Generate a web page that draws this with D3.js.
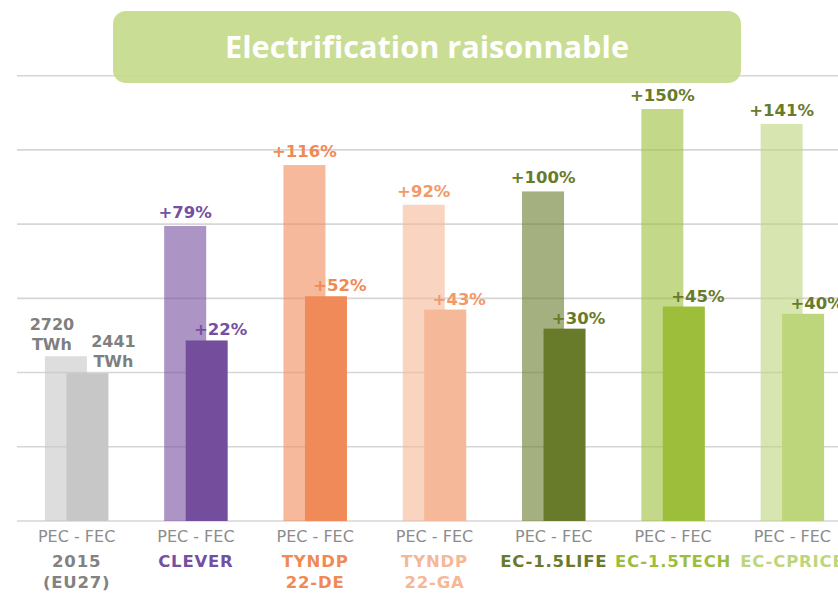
<!DOCTYPE html>
<html>
<head>
<meta charset="utf-8">
<script src="https://cdn.jsdelivr.net/npm/d3@7"></script>
<style>
  html, body { margin: 0; padding: 0; background: #fff; overflow: hidden; }
  svg { display: block; }
</style>
</head>
<body>
<div id="chart"></div>
<script>
// values in TWh (PEC = primary, FEC = final)
const groupLines = [["2015", "(EU27)"], ["CLEVER"], ["TYNDP", "22-DE"], ["TYNDP", "22-GA"], ["EC-1.5LIFE"], ["EC-1.5TECH"], ["EC-CPRICE"]];
const pecValues = [2720, 4870, 5875, 5220, 5440, 6800, 6555];
const fecValues = [2441, 2980, 3710, 3490, 3175, 3540, 3420];
const pecLabels = [["2720", "TWh"], "+79%", "+116%", "+92%", "+100%", "+150%", "+141%"];
const fecLabels = [["2441", "TWh"], "+22%", "+52%", "+43%", "+30%", "+45%", "+40%"];
const gridTicks = [0, 1225, 2450, 3675, 4900, 6125, 7350];
const subLabel = "PEC - FEC";
const title = "Electrification raisonnable";

const barColors = ["#c7c7c7", "#744e9c", "#f08b59", "#f5b898", "#687b2a", "#9cbe3b", "#bdd67b"];
const pctColors = ["#7f7f7f", "#7550a0", "#f08a55", "#f2996a", "#687b2a", "#687b2a", "#687b2a"];
const nameColors = ["#828282", "#7550a0", "#f08a55", "#f6b797", "#687b2a", "#9cbe3b", "#bdd67b"];

const W = 838, H = 593;
const svg = d3.select("#chart").append("svg")
  .attr("width", W)
  .attr("height", H);

const y = d3.scaleLinear().domain([0, 7350]).range([521, 75.7]);
const x = d3.scaleBand().domain(d3.range(groupLines.length)).range([17, 852]).padding(0);

const barW = 42, shift = 21.5;
const pecX = i => x(i) + (x.bandwidth() - (barW + shift)) / 2;
const fecX = i => pecX(i) + shift;

// grid
svg.append("g")
  .selectAll("line")
  .data(gridTicks)
  .join("line")
  .attr("x1", 17)
  .attr("x2", W)
  .attr("y1", d => y(d))
  .attr("y2", d => y(d))
  .attr("stroke", "#d6d6d6")
  .attr("stroke-width", 1.6);

// title box
svg.append("rect")
  .attr("x", 113)
  .attr("y", 11)
  .attr("width", 628)
  .attr("height", 72)
  .attr("rx", 13)
  .attr("fill", "#c5da8c")
  .attr("fill-opacity", 0.93);

svg.append("text")
  .attr("x", 427)
  .attr("y", 57.5)
  .attr("text-anchor", "middle")
  .attr("font-family", "'Open Sans', sans-serif")
  .attr("font-weight", "bold")
  .attr("font-size", 31)
  .attr("fill", "#fff")
  .attr("textLength", 404)
  .attr("lengthAdjust", "spacingAndGlyphs")
  .text(title);

const idx = d3.range(groupLines.length);

// PEC bars (see-through) then FEC bars on top
svg.append("g")
  .selectAll("rect")
  .data(idx)
  .join("rect")
  .attr("x", i => pecX(i))
  .attr("width", barW)
  .attr("y", i => y(pecValues[i]))
  .attr("height", i => y(0) - y(pecValues[i]))
  .attr("fill", i => barColors[i])
  .attr("fill-opacity", 0.6);

svg.append("g")
  .selectAll("rect")
  .data(idx)
  .join("rect")
  .attr("x", i => fecX(i))
  .attr("width", barW)
  .attr("y", i => y(fecValues[i]))
  .attr("height", i => y(0) - y(fecValues[i]))
  .attr("fill", i => barColors[i]);

const boldFont = "'DejaVu Sans', Verdana, sans-serif";

function valueLabel(cx, top, label, color, gap) {
  const t = svg.append("text")
    .attr("text-anchor", "middle")
    .attr("font-family", boldFont)
    .attr("font-weight", "bold")
    .attr("fill", color);
  if (Array.isArray(label)) {
    t.attr("font-size", 16);
    label.forEach((s, k) => {
      t.append("tspan")
        .attr("x", cx)
        .attr("y", top - 6.5 - (label.length - 1 - k) * 20)
        .text(s);
    });
  } else {
    t.attr("font-size", 16.5)
      .attr("x", cx)
      .attr("y", top - gap)
      .text(label);
  }
}

idx.forEach(i => {
  const pTop = y(pecValues[i]), fTop = y(fecValues[i]);
  if (i === 0) {
    valueLabel(pecX(i) + barW / 2 - 14, pTop, pecLabels[i], pctColors[i]);
    valueLabel(fecX(i) + barW / 2 + 26, fTop, fecLabels[i], pctColors[i]);
  } else {
    valueLabel(pecX(i) + barW / 2, pTop, pecLabels[i], pctColors[i], 8);
    valueLabel(fecX(i) + barW / 2 + 14, fTop, fecLabels[i], pctColors[i], 5);
  }
});

// category labels
const cat = svg.append("g");
cat.selectAll("text.sub")
  .data(idx)
  .join("text")
  .attr("class", "sub")
  .attr("x", i => x(i) + x.bandwidth() / 2)
  .attr("y", 541.5)
  .attr("text-anchor", "middle")
  .attr("font-family", "'DejaVu Sans', sans-serif")
  .attr("font-size", 16)
  .attr("fill", "#8c8c8c")
  .text(subLabel);

cat.selectAll("text.name")
  .data(idx)
  .join("text")
  .attr("class", "name")
  .attr("text-anchor", "middle")
  .attr("font-family", boldFont)
  .attr("font-weight", "bold")
  .attr("font-size", 16.5)
  .attr("letter-spacing", 0.8)
  .attr("fill", i => nameColors[i])
  .each(function(i) {
    d3.select(this).selectAll("tspan")
      .data(groupLines[i])
      .join("tspan")
      .attr("x", x(i) + x.bandwidth() / 2)
      .attr("y", (d, k) => 567 + k * 20.5)
      .text(d => d);
  });
</script>
</body>
</html>
